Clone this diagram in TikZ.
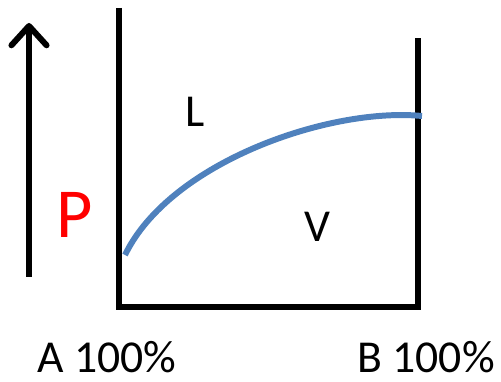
\documentclass[tikz,border=0pt]{standalone}
\usepackage{fontspec}
\setmainfont{Carlito}
\usetikzlibrary{arrows.meta}
\definecolor{curveblue}{RGB}{79,129,189}
\tikzset{
    biglabel/.style={font=\fontsize{26}{26}\selectfont},
    thickline/.style={line width=3.4pt}
}
\begin{document}
\begin{tikzpicture}[x=0.02cm, y=0.02cm]
    \useasboundingbox (0,0) rectangle (501,382);

    % Pressure arrow
    \coordinate (pbot) at (29,105);
    \coordinate (ptop) at (29,359);
    \draw[thickline, -{Straight Barb[length=11pt, width=20pt, round]}] (pbot) -- (ptop);
    \node[text=red, font=\fontsize{40}{40}\selectfont] (plabel) at (75,167) {P};

    % Box: two walls and floor
    \coordinate (lt) at (119,374);
    \coordinate (lb) at (119,75);
    \coordinate (rb) at (418,75);
    \coordinate (rt) at (418,344);
    \draw[thickline] (lt) -- (lb) -- (rb) -- (rt);

    % Phase boundary
    \draw[thickline, curveblue] (125,127) .. controls (170,220) and (330,275) .. (422,266);

    % Phase labels
    \node[biglabel] (liq) at (195,270) {L};
    \node[biglabel] (vap) at (317,155) {V};

    % Axis labels
    \node[biglabel, anchor=base, inner sep=0pt] (ca) at (107,9) {A 100\%};
    \node[biglabel, anchor=base, inner sep=0pt] (cb) at (426,9) {B 100\%};
\end{tikzpicture}
\end{document}
